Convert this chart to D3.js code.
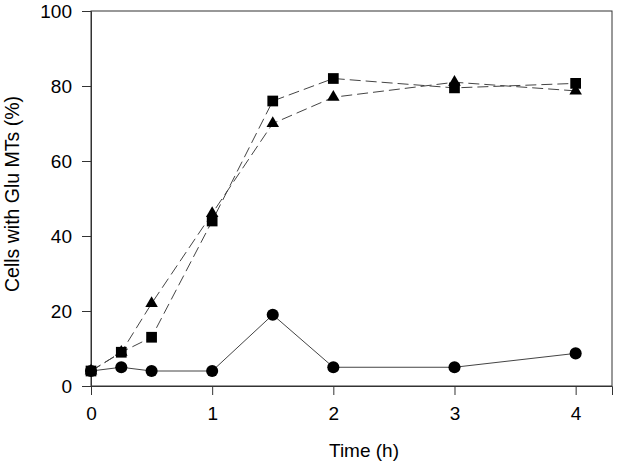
<!DOCTYPE html>
<html><head><meta charset="utf-8">
<script src="https://cdn.jsdelivr.net/npm/d3@7"></script>
<style>body{margin:0;background:#fff}svg{display:block}</style>
</head><body>
<script>
const times = [0, 0.25, 0.5, 1, 1.5, 2, 3, 4];
const circleVals = [4, 5, 4, 4, 19, 5, 5, 8.7];
const squareVals = [4, 9, 13, 44, 76, 82, 79.5, 80.7];
const triangleVals = [4, 9, 22, 46, 70, 77, 81, 78.7];
const xTicks = [0, 1, 2, 3, 4];
const yTicks = [0, 20, 40, 60, 80, 100];

const W = 640, H = 464;
const L = 91, R = 612, T = 11, B = 386;
const svg = d3.select("body").append("svg").attr("width", W).attr("height", H);
const x = d3.scaleLinear().domain([0, 4.3]).range([L, R]);
const y = d3.scaleLinear().domain([0, 100]).range([B, T]);
const font = "Arial, 'Liberation Sans', sans-serif";

// frame
svg.append("rect").attr("x", L).attr("y", T).attr("width", R - L).attr("height", B - T)
  .attr("fill", "none").attr("stroke", "#333").attr("stroke-width", 1);

const xa = svg.append("g").attr("transform", `translate(0,${B})`)
  .call(d3.axisBottom(x).tickValues(xTicks).tickSize(9).tickPadding(12).tickFormat(d3.format("d")));
const ya = svg.append("g").attr("transform", `translate(${L},0)`)
  .call(d3.axisLeft(y).tickValues(yTicks).tickSize(9).tickPadding(10).tickFormat(d3.format("d")));
[xa, ya].forEach(a => {
  a.select(".domain").attr("stroke", "#333");
  a.selectAll(".tick line").attr("stroke", "#333");
  a.selectAll(".tick text").attr("fill", "#000").style("font-family", font).style("font-size", "19px");
});

svg.append("text").attr("x", 364).attr("y", 457).attr("text-anchor", "middle")
  .style("font-family", font).style("font-size", "19px").text("Time (h)");
svg.append("text").attr("transform", `translate(19,194) rotate(-90)`).attr("text-anchor", "middle")
  .style("font-family", font).style("font-size", "19.5px").text("Cells with Glu MTs (%)");

const line = d3.line().x(d => x(d[0])).y(d => y(d[1]));
const series = [
  {vals: triangleVals, dash: "11,5", sym: d3.symbolTriangle, size: 68},
  {vals: squareVals, dash: "11,5", sym: d3.symbolSquare, size: 115},
  {vals: circleVals, dash: null, sym: d3.symbolCircle, size: 115}
];
series.forEach(s => {
  const pts = times.map((t, i) => [t, s.vals[i]]);
  svg.append("path").datum(pts).attr("d", line).attr("fill", "none")
    .attr("stroke", "#444").attr("stroke-width", 1).attr("stroke-dasharray", s.dash);
});
series.forEach(s => {
  const pts = times.map((t, i) => [t, s.vals[i]]);
  svg.append("g").selectAll("path").data(pts).join("path")
    .attr("transform", d => `translate(${x(d[0])},${y(d[1])})`)
    .attr("d", d3.symbol(s.sym, s.size)).attr("fill", "#000");
});
</script>
</body></html>
